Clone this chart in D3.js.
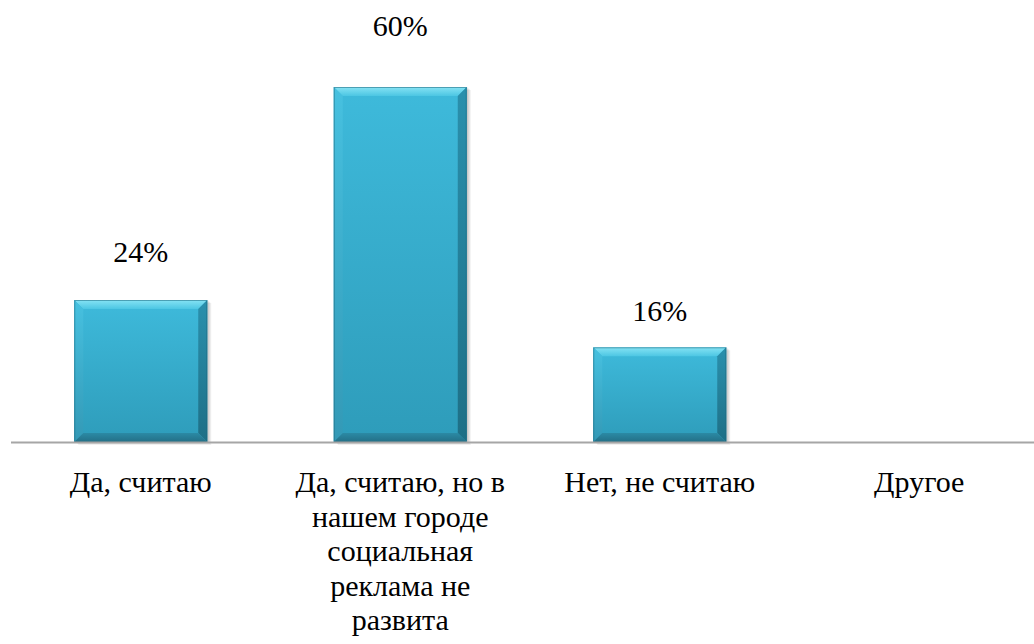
<!DOCTYPE html>
<html>
<head>
<meta charset="utf-8">
<script src="https://cdn.jsdelivr.net/npm/d3@7/dist/d3.min.js"></script>
</head>
<body style="margin:0;background:#fff">
<svg id="chart" width="1034" height="644"></svg>
<script>
// Survey answers and their shares (percent)
const categories = [
  "Да, считаю",
  "Да, считаю, но в нашем городе социальная реклама не развита",
  "Нет, не считаю",
  "Другое"
];
const values = [24, 60, 16, null];
const valueLabels = ["24%", "60%", "16%", ""];

// Layout
const W = 1034, H = 644;
const baseY = 442;
const labelLift = [38, 51, 26, 0];   // distance from bar top to label baseline

const svg = d3.select("#chart");
const defs = svg.append("defs");

const x = d3.scaleBand()
  .domain(categories)
  .range([11, 1049])
  .paddingInner(0.4875)
  .paddingOuter(0.24375);

const y = d3.scaleLinear()
  .domain([0, 60])
  .range([baseY, 87]);

// Gradients for the bevelled bar faces
function vGrad(id, stops) {
  const g = defs.append("linearGradient").attr("id", id)
    .attr("x1", 0).attr("y1", 0).attr("x2", 0).attr("y2", 1);
  stops.forEach(([o, c]) => g.append("stop").attr("offset", o).attr("stop-color", c));
}
vGrad("face", [[0, "#3ebadb"], [1, "#2e9cba"]]);
vGrad("topB", [[0, "#86e3f4"], [1, "#4cc6e3"]]);
vGrad("leftB", [[0, "#47c1e0"], [1, "#3399b6"]]);
vGrad("rightB", [[0, "#2a90ad"], [1, "#1e6f86"]]);
vGrad("botB", [[0, "#2b8aa5"], [1, "#236f86"]]);

const data = categories.map((c, i) => ({ c, v: values[i], label: valueLabels[i], lift: labelLift[i] }));
const bars = data.filter(d => d.v != null);

// Soft shadow: a few stacked translucent offsets to the lower right
const shadowSteps = [4, 3, 2, 1];
bars.forEach(d => {
  const x0 = x(d.c), w = x.bandwidth(), y0 = y(d.v), h = baseY - y0;
  shadowSteps.forEach(s => {
    svg.append("rect")
      .attr("x", x0 + s).attr("y", y0 + s - 1)
      .attr("width", w).attr("height", h)
      .attr("fill", "#000").attr("fill-opacity", 0.06);
  });
});

// Bars with bevel
const bevel = 9;
bars.forEach(d => {
  const g = svg.append("g");
  const x0 = x(d.c), w = x.bandwidth();
  const y0 = y(d.v), h = baseY - y0;
  const x1 = x0 + w, y1 = y0 + h, b = bevel;
  const pt = arr => arr.map(p => p.join(",")).join(" ");
  g.append("rect").attr("x", x0).attr("y", y0).attr("width", w).attr("height", h).attr("fill", "url(#face)");
  g.append("polygon").attr("points", pt([[x0, y0], [x1, y0], [x1 - b, y0 + b], [x0 + b, y0 + b]])).attr("fill", "url(#topB)");
  g.append("polygon").attr("points", pt([[x0, y0], [x0 + b, y0 + b], [x0 + b, y1 - b], [x0, y1]])).attr("fill", "url(#leftB)");
  g.append("polygon").attr("points", pt([[x1, y0], [x1, y1], [x1 - b, y1 - b], [x1 - b, y0 + b]])).attr("fill", "url(#rightB)");
  g.append("polygon").attr("points", pt([[x0, y1], [x0 + b, y1 - b], [x1 - b, y1 - b], [x1, y1]])).attr("fill", "url(#botB)");
  g.append("rect").attr("x", x0 + 0.5).attr("y", y0 + 0.5).attr("width", w - 1).attr("height", h - 1)
    .attr("fill", "none").attr("stroke", "#1d6a80").attr("stroke-opacity", 0.55).attr("stroke-width", 1);
});

// Baseline axis
svg.append("line")
  .attr("x1", 11).attr("x2", W)
  .attr("y1", baseY + 0.5).attr("y2", baseY + 0.5)
  .attr("stroke", "#a6a6a6").attr("stroke-width", 2);

// Value labels
svg.selectAll("text.value").data(bars).join("text")
  .attr("class", "value")
  .attr("x", d => x(d.c) + x.bandwidth() / 2)
  .attr("y", d => y(d.v) - d.lift)
  .attr("text-anchor", "middle")
  .style("font-family", "Liberation Serif")
  .style("font-size", "30px")
  .text(d => d.label);

// Category labels, wrapped by word to a line length
const maxChars = 16, lineH = 34.5, firstBase = 492;
function wrapWords(s) {
  const out = [];
  let cur = "";
  s.split(" ").forEach(w => {
    const next = cur ? cur + " " + w : w;
    if (next.length > maxChars && cur) { out.push(cur); cur = w; }
    else cur = next;
  });
  if (cur) out.push(cur);
  return out;
}
const lines = [];
categories.forEach(c => {
  wrapWords(c).forEach((t, i) => lines.push({ c, t, i }));
});
svg.selectAll("text.cat").data(lines).join("text")
  .attr("class", "cat")
  .attr("x", d => x(d.c) + x.bandwidth() / 2)
  .attr("y", d => firstBase + d.i * lineH)
  .attr("text-anchor", "middle")
  .style("font-family", "Liberation Serif")
  .style("font-size", "30px")
  .text(d => d.t);
</script>
</body>
</html>
